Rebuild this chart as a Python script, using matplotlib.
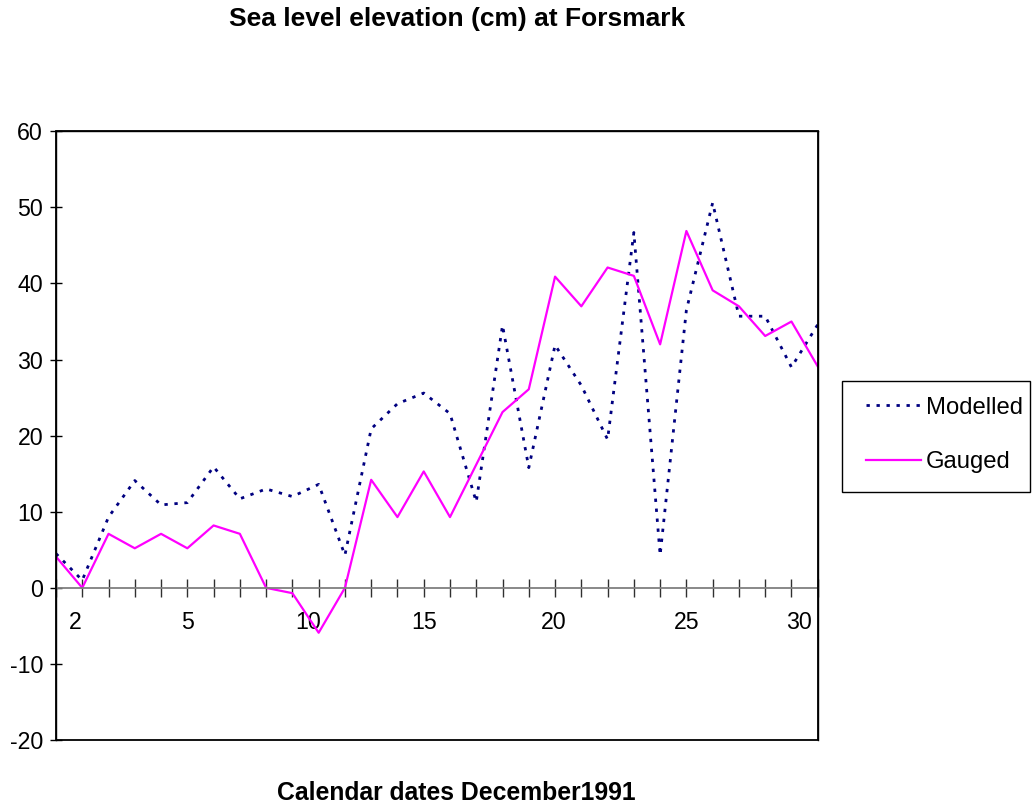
import numpy as np
import matplotlib
matplotlib.use("Agg")
import matplotlib.pyplot as plt
from matplotlib.patches import Rectangle

plt.rcParams["font.family"] = ["Liberation Sans", "DejaVu Sans"]
plt.rcParams["axes.unicode_minus"] = False

# Daily values (30 points)
modelled = [4.5, 1.0, 9.3, 14.1, 10.9, 11.2, 15.9, 11.7, 13.0, 12.0,
            13.6, 4.3, 20.9, 24.2, 25.6, 22.9, 11.3, 34.5, 15.8, 31.9,
            26.6, 19.5, 46.7, 4.3, 36.5, 50.6, 35.7, 35.7, 29.0, 34.6]
gauged = [4.1, 0.0, 7.1, 5.2, 7.1, 5.2, 8.2, 7.1, 0.0, -0.7,
          -5.9, 0.0, 14.2, 9.3, 15.3, 9.3, 16.2, 23.1, 26.1, 40.9,
          37.0, 42.1, 41.0, 32.0, 46.9, 39.1, 37.0, 33.1, 35.0, 29.1]

# Date labels and where they sit along the category axis
date_labels = ["2", "5", "10", "15", "20", "25", "30"]
label_pos = [0.72, 5.0, 9.6, 14.0, 18.95, 24.0, 28.3]

y_ticks = [-20, -10, 0, 10, 20, 30, 40, 50, 60]

x = np.arange(len(gauged))

fig = plt.figure(figsize=(10.33, 8.05), dpi=100)
ax = fig.add_axes([0.0542, 0.0807, 0.7374, 0.7562])

ax.plot(x, modelled, color="#000080", lw=2.0, linestyle=(0, (1.2, 2.4)),
        label="Modelled")
ax.plot(x, gauged, color="#FF00FF", lw=1.6, label="Gauged")

ax.set_xlim(0, len(gauged) - 1)
ax.set_ylim(-20, 60)

# x axis runs through zero, frame drawn separately
ax.spines["bottom"].set_position(("data", 0))
ax.spines["bottom"].set_color("#7f7f7f")
ax.spines["bottom"].set_linewidth(1.3)
for s in ["top", "right", "left"]:
    ax.spines[s].set_color("black")
    ax.spines[s].set_linewidth(1.0)
ax.add_patch(Rectangle((0, 0), 1, 1, transform=ax.transAxes, fill=False,
                       edgecolor="black", lw=1.3, clip_on=False, zorder=5))

ax.xaxis.remove_overlapping_locs = False
ax.set_xticks(label_pos)
ax.set_xticklabels(date_labels)
ax.set_xticks(x, minor=True)
ax.tick_params(axis="x", which="major", length=0, pad=16.5, labelsize=16.7)
ax.tick_params(axis="x", which="minor", direction="inout", length=13,
               width=1.0, color="#303030")

ax.set_yticks(y_ticks)
ax.tick_params(axis="y", direction="inout", length=8.6, width=1.0,
               pad=5.0, labelsize=16.7)

# legend box drawn as its own rectangle, entries placed inside it
fig.add_artist(Rectangle((842 / 1033, 1 - 492 / 805), 188 / 1033, 111 / 805,
                         transform=fig.transFigure, fill=False,
                         edgecolor="black", lw=1.0))
fig.legend(loc="center left", bbox_to_anchor=(866 / 1033, 1 - 435 / 805),
           fontsize=17.2, frameon=False, borderpad=0, borderaxespad=0,
           handlelength=2.3, handletextpad=0.22, labelspacing=1.38)

fig.text(0.4424, 0.976, "Sea level elevation (cm) at Forsmark",
         ha="center", va="center", fontsize=19, fontweight="bold")
fig.text(0.4413, 0.015, "Calendar dates December1991",
         ha="center", va="center", fontsize=17.8, fontweight="bold")

fig.savefig("out.png", dpi=100)
